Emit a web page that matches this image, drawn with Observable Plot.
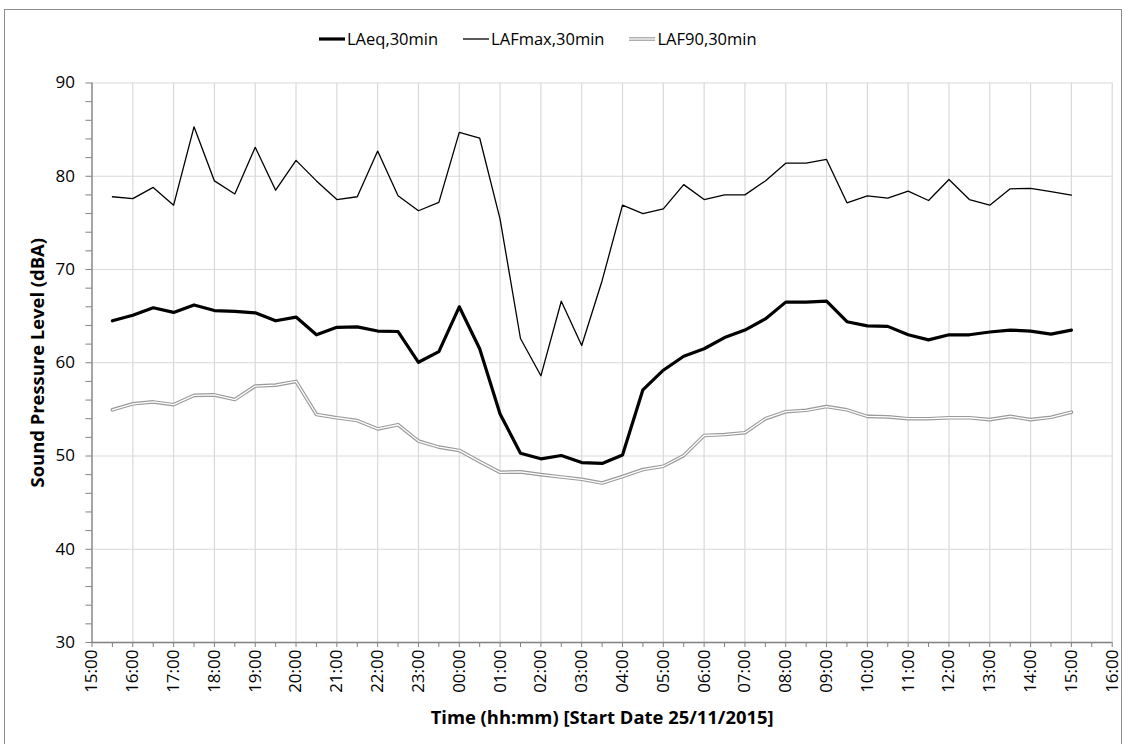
<!DOCTYPE html>
<html><head><meta charset="utf-8">
<script src="https://cdn.jsdelivr.net/npm/d3@7"></script>
<script src="https://cdn.jsdelivr.net/npm/@observablehq/plot@0.6"></script>
<style>
body{margin:0;background:#fff;}
#wrap{position:relative;width:1126px;height:744px;overflow:hidden;font-family:"Open Sans",sans-serif;background:#fff;}
#frame{position:absolute;left:4px;top:9px;width:1118px;height:745px;border:1.5px solid #8c8c8c;box-sizing:border-box;pointer-events:none}
#legend{position:absolute;left:319px;top:27px;display:flex;align-items:center;font-size:16.5px;color:#000;white-space:nowrap}
.item{display:flex;align-items:center;margin-right:25px}
.item svg{display:block;margin-right:2px}
#chart{position:absolute;left:0;top:0}
</style></head>
<body>
<div id="wrap">
  <div id="chart"></div>
  <div id="legend"></div>
  <div id="frame"></div>
</div>
<script>
// Half-hourly sample times (start date 25/11/2015)
const times = ["15:30","16:00","16:30","17:00","17:30","18:00","18:30","19:00","19:30","20:00","20:30","21:00","21:30","22:00","22:30","23:00","23:30","00:00","00:30","01:00","01:30","02:00","02:30","03:00","03:30","04:00","04:30","05:00","05:30","06:00","06:30","07:00","07:30","08:00","08:30","09:00","09:30","10:00","10:30","11:00","11:30","12:00","12:30","13:00","13:30","14:00","14:30","15:00"];
const laeq = [64.5,65.1,65.9,65.4,66.2,65.6,65.5,65.35,64.5,64.9,63.0,63.8,63.85,63.4,63.35,60.05,61.2,66.0,61.5,54.5,50.3,49.7,50.05,49.3,49.2,50.1,57.1,59.2,60.7,61.5,62.7,63.5,64.7,66.5,66.5,66.6,64.4,63.95,63.9,63.0,62.45,63.0,63.0,63.3,63.5,63.4,63.07,63.5];
const lafmax = [77.8,77.6,78.8,76.9,85.3,79.5,78.1,83.1,78.5,81.7,79.5,77.5,77.8,82.7,77.9,76.3,77.2,84.7,84.1,75.4,62.6,58.6,66.6,61.85,68.8,76.9,76.0,76.5,79.1,77.5,78.0,78.0,79.5,81.4,81.4,81.8,77.15,77.9,77.65,78.4,77.4,79.65,77.5,76.9,78.65,78.7,78.35,77.97];
const laf90 = [54.95,55.6,55.8,55.5,56.5,56.55,56.05,57.5,57.6,58.0,54.45,54.1,53.8,52.9,53.35,51.6,50.95,50.6,49.4,48.25,48.3,48.0,47.75,47.5,47.1,47.8,48.55,48.9,50.05,52.2,52.3,52.5,54.0,54.75,54.9,55.3,54.95,54.25,54.2,54.0,54.0,54.1,54.1,53.9,54.25,53.9,54.15,54.7];
const hourLabels = ["15:00","16:00","17:00","18:00","19:00","20:00","21:00","22:00","23:00","00:00","01:00","02:00","03:00","04:00","05:00","06:00","07:00","08:00","09:00","10:00","11:00","12:00","13:00","14:00","15:00","16:00"];
const series = [
  {name:"LAeq,30min", key:"laeq"},
  {name:"LAFmax,30min", key:"lafmax"},
  {name:"LAF90,30min", key:"laf90"}
];

// hours since 15:00 on start date
let prev = -1, dayAdd = 0;
const data = times.map((s, i) => {
  const [H, M] = s.split(":").map(Number);
  let t = ((H - 15 + 24) % 24) + M / 60 + dayAdd;
  if (t <= prev) { dayAdd += 24; t += 24; }
  prev = t;
  return {t, laeq: laeq[i], lafmax: lafmax[i], laf90: laf90[i]};
});

const hourTicks = hourLabels.map((d, i) => i);
const halfTicks = d3.range(0, hourLabels.length - 0.99, 0.5);
const majorY = d3.range(30, 91, 10);
const minorY = d3.range(30, 91, 2);

const chart = Plot.plot({
  width: 1126, height: 744,
  marginLeft: 91.5, marginRight: 14.3, marginTop: 82.5, marginBottom: 102,
  style: {fontFamily: "'Open Sans', sans-serif", fontSize: "17px", color: "#000", background: "transparent"},
  x: {domain: [0, hourLabels.length - 1]},
  y: {domain: [30, 90]},
  marks: [
    Plot.gridX(hourTicks, {stroke: "#d9d9d9", strokeOpacity: 1, strokeWidth: 1.2}),
    Plot.gridY(majorY, {stroke: "#d9d9d9", strokeOpacity: 1, strokeWidth: 1.2}),
    Plot.axisX(halfTicks, {tickSize: 5, tickPadding: 2, tickRotate: -90, stroke: "#808080", label: null,
      tickFormat: d => Number.isInteger(d) ? hourLabels[d] : "", style: "letter-spacing:1.2px"}),
    Plot.axisY(minorY, {tickSize: 6, tickPadding: 11, stroke: "#808080", label: null,
      tickFormat: d => d % 10 === 0 ? String(d) : ""}),
    Plot.ruleX([0], {stroke: "#808080", strokeWidth: 1.3}),
    Plot.ruleY([30], {stroke: "#808080", strokeWidth: 1.3}),
    Plot.line(data, {x: "t", y: "lafmax", stroke: "#000", strokeWidth: 1.3, strokeLinejoin: "round"}),
    Plot.line(data, {x: "t", y: "laf90", stroke: "#9a9a9a", strokeWidth: 3.6, strokeLinejoin: "round"}),
    Plot.line(data, {x: "t", y: "laf90", stroke: "#fff", strokeWidth: 1.3, strokeLinejoin: "round"}),
    Plot.line(data, {x: "t", y: "laeq", stroke: "#000", strokeWidth: 3.2, strokeLinejoin: "round"}),
    Plot.text(["Time (hh:mm) [Start Date 25/11/2015]"], {frameAnchor: "bottom", textAnchor: "middle", lineAnchor: "middle", dy: 76, fontWeight: "bold", fontSize: 18.4}),
    Plot.text(["Sound Pressure Level (dBA)"], {frameAnchor: "left", textAnchor: "middle", lineAnchor: "middle", dx: -54, rotate: -90, fontWeight: "bold", fontSize: 18.4})
  ]
});
document.getElementById("chart").appendChild(chart);

// legend
const legend = document.getElementById("legend");
const styles = {
  laeq: [["#000", 3.2]],
  lafmax: [["#000", 1.3]],
  laf90: [["#9a9a9a", 3.6], ["#fff", 1.3]]
};
for (const s of series) {
  const item = document.createElement("div");
  item.className = "item";
  const lines = styles[s.key].map(([c, w]) => `<line x1="0" x2="26" y1="6" y2="6" stroke="${c}" stroke-width="${w}"/>`).join("");
  item.innerHTML = `<svg width="26" height="12">${lines}</svg><span>${s.name}</span>`;
  legend.appendChild(item);
}
</script>
</body></html>
